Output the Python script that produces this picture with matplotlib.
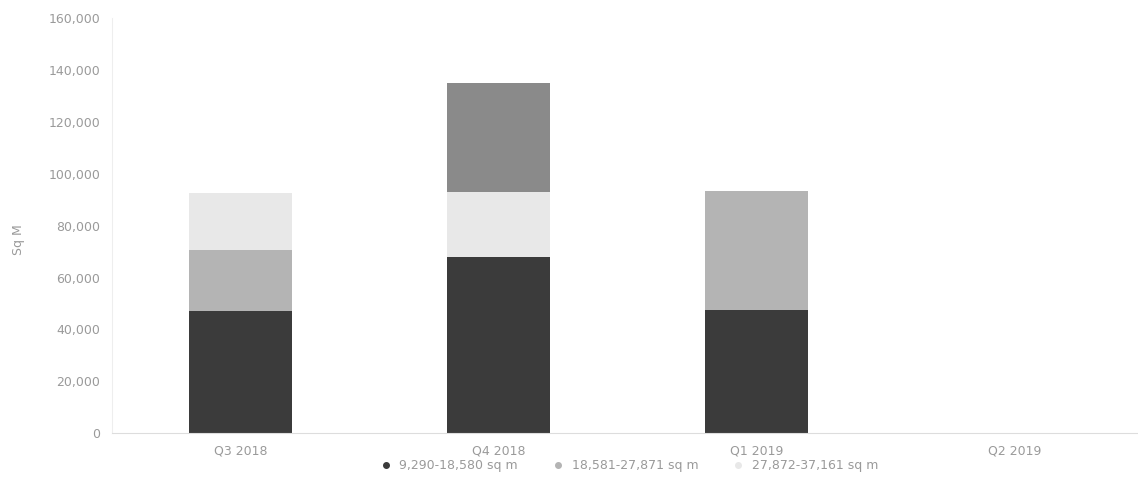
import numpy as np
import matplotlib.pyplot as plt
from matplotlib.lines import Line2D

quarters = ["Q3 2018", "Q4 2018", "Q1 2019", "Q2 2019"]
size_bands = ["9,290-18,580 sq m", "18,581-27,871 sq m", "27,872-37,161 sq m"]

# take-up by size band, sq m
band_small = [47000, 68000, 47500, 0]
band_mid = [23500, 0, 46000, 0]
band_large = [22000, 25000, 0, 0]
band_top = [0, 42000, 0, 0]

colors = ["#3b3b3b", "#b4b4b4", "#e8e8e8", "#8a8a8a"]
grey = "#9a9a9a"

fig = plt.figure(figsize=(11.38, 4.9), dpi=100)
ax = fig.add_axes([0.098, 0.116, 0.902, 0.847])

x = np.arange(len(quarters))
bottom = np.zeros(len(quarters))
for vals, c in zip([band_small, band_mid, band_large, band_top], colors):
    ax.bar(x, vals, 0.40, bottom=bottom, color=c, linewidth=0)
    bottom += np.array(vals)

ax.set_ylim(0, 160000)
ax.set_xlim(-0.5, 3.48)
ax.set_yticks(np.arange(0, 160001, 20000))
ax.set_yticklabels([f"{v:,}" for v in range(0, 160001, 20000)])
ax.set_xticks(x)
ax.set_xticklabels(quarters)
ax.tick_params(colors=grey, labelsize=9, length=0, pad=8)
fig.text(0.016, 0.51, "Sq M", rotation=90, color=grey, fontsize=9,
         ha="center", va="center")

for s in ["top", "right"]:
    ax.spines[s].set_visible(False)
ax.spines["left"].set_color("#eeeeee")
ax.spines["bottom"].set_color("#dddddd")

handles = [Line2D([], [], marker="o", linestyle="", markersize=4,
                  color=c) for c in colors[:3]]
fig.legend(handles, size_bands, loc="center", bbox_to_anchor=(0.55, 0.05),
           ncol=3, frameon=False, fontsize=9, labelcolor=grey,
           handletextpad=0.1, columnspacing=2.2)

fig.savefig("out.png", dpi=100)
